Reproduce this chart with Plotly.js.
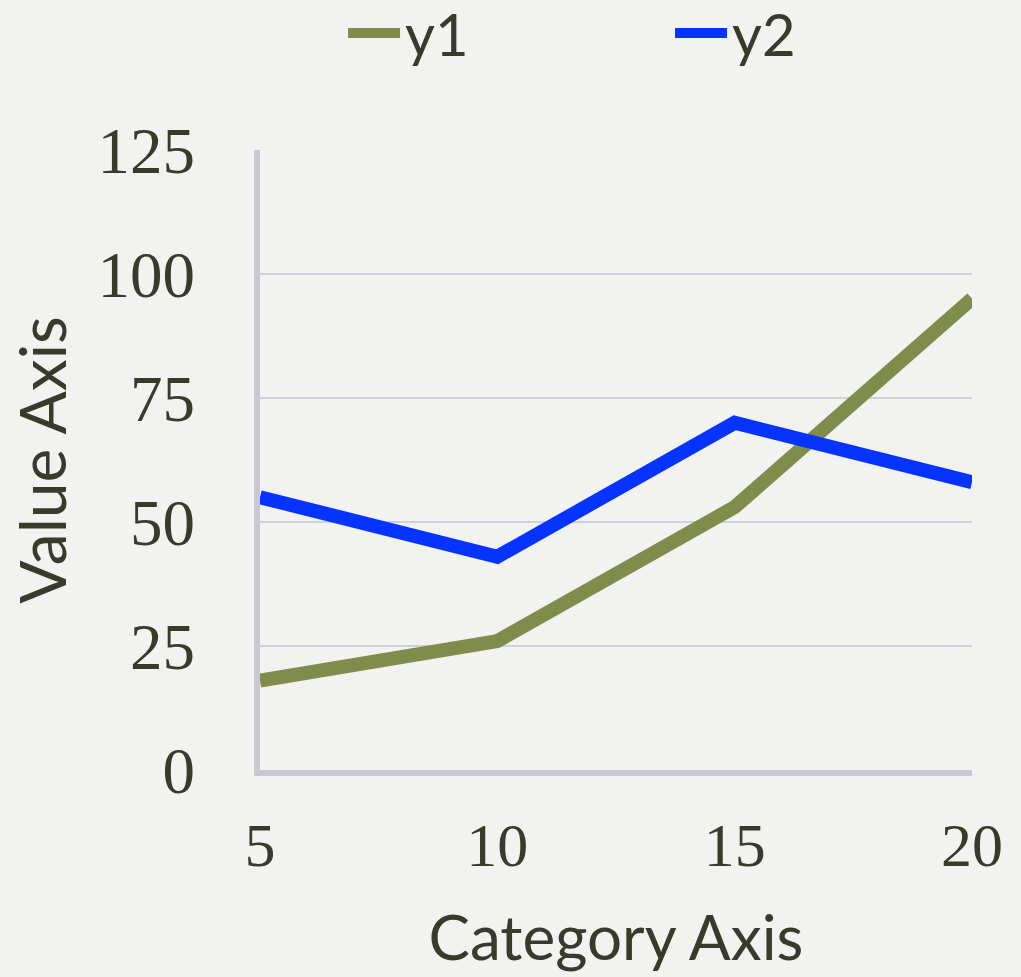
<!DOCTYPE html>
<html>
<head>
<meta charset="utf-8">
<script src="https://cdn.plot.ly/plotly-3.0.1.min.js"></script>
<style>
  html, body { margin: 0; padding: 0; background: #f2f2f1; }
  #chart { width: 1021px; height: 977px; }
</style>
</head>
<body>
<div id="chart"></div>
<script>
// Category labels and the two series
const categories = ['5', '10', '15', '20'];
const y1Values = [18, 26, 53, 95];
const y2Values = [55, 43, 70, 58];
const yTicks = [0, 25, 50, 75, 100, 125];

const inkColor = '#3a3a2c';
const axisColor = '#c9c9d3';
const titleFont = 'Lato, "Open Sans", sans-serif';
const numberFont = '"Liberation Serif", "DejaVu Serif", serif';

const traces = [
  {
    x: categories, y: y1Values, name: 'y1', type: 'scatter', mode: 'lines',
    line: { color: '#7f8c4c', width: 14 }
  },
  {
    x: categories, y: y2Values, name: 'y2', type: 'scatter', mode: 'lines',
    line: { color: '#0533ff', width: 14 }
  }
];

const layout = {
  width: 1021,
  height: 977,
  paper_bgcolor: '#f2f2f1',
  plot_bgcolor: 'rgba(0,0,0,0)',
  margin: { l: 260, r: 49, t: 150, b: 207 },
  showlegend: true,
  legend: {
    orientation: 'h',
    xref: 'container', yref: 'container',
    x: 0.336, xanchor: 'left',
    y: 0.966, yanchor: 'middle',
    entrywidth: 260,
    itemwidth: 52,
    font: { family: titleFont, size: 58, color: inkColor },
    bgcolor: 'rgba(0,0,0,0)'
  },
  xaxis: {
    type: 'category',
    range: [0, 3],
    showline: true, linecolor: axisColor, linewidth: 6,
    showgrid: false, zeroline: false,
    ticks: 'outside', ticklen: 16, tickcolor: 'rgba(0,0,0,0)',
    tickfont: { family: numberFont, size: 62, color: inkColor },
    title: { text: 'Category Axis', font: { family: titleFont, size: 62, color: inkColor }, standoff: 40 }
  },
  yaxis: {
    range: [0, 125],
    tickvals: yTicks,
    showline: true, linecolor: axisColor, linewidth: 6,
    showgrid: true, gridcolor: '#d0d0da', gridwidth: 2,
    zeroline: false,
    ticks: 'outside', ticklen: 46, tickcolor: 'rgba(0,0,0,0)',
    tickfont: { family: numberFont, size: 65, color: inkColor },
    title: { text: 'Value Axis', font: { family: titleFont, size: 64, color: inkColor }, standoff: 12 }
  }
};

Plotly.newPlot('chart', traces, layout, { staticPlot: true, displayModeBar: false });
</script>
</body>
</html>
